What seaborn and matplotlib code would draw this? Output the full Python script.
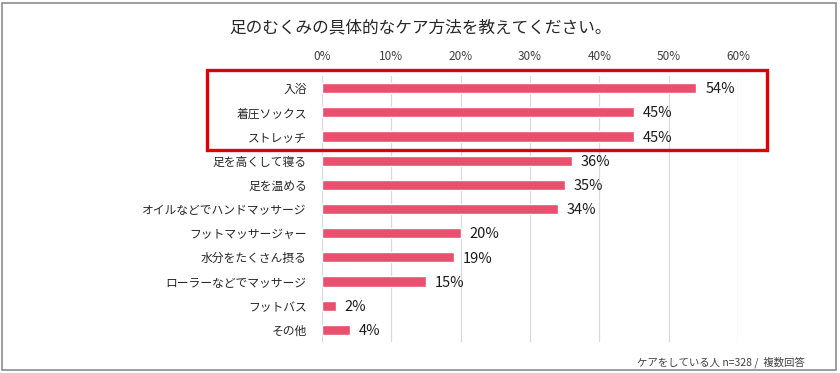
import matplotlib
matplotlib.use("Agg")
import matplotlib.pyplot as plt
import matplotlib.patches as patches
import pandas as pd
import seaborn as sns

# data
methods = ["入浴", "着圧ソックス", "ストレッチ", "足を高くして寝る", "足を温める",
           "オイルなどでハンドマッサージ", "フットマッサージャー", "水分をたくさん摂る",
           "ローラーなどでマッサージ", "フットバス", "その他"]
shares = [54, 45, 45, 36, 35, 34, 20, 19, 15, 2, 4]
xticks = [0, 10, 20, 30, 40, 50, 60]

df = pd.DataFrame({"method": methods, "share": shares})

sns.set_theme(style="white")
plt.rcParams["font.family"] = ["Noto Sans CJK JP", "DejaVu Sans"]

fig = plt.figure(figsize=(8.4, 3.73), dpi=100)
ax = fig.add_axes([322 / 840, 31 / 373, 416 / 840, 266 / 373])

sns.barplot(data=df, x="share", y="method", orient="h", color="#E8506E",
            saturation=1, width=0.42, ax=ax)

ax.set_xlim(0, 60)
ax.set_xticks(xticks)
ax.set_xticklabels([f"{t}%" for t in xticks], fontsize=8.5, color="#404040")
ax.xaxis.tick_top()
ax.tick_params(axis="x", length=0, pad=9)
ax.tick_params(axis="y", length=0, pad=11, labelsize=8.5, labelcolor="#262626")
ax.set_xlabel("")
ax.set_ylabel("")
ax.grid(axis="x", color="#D9D9D9", linewidth=0.9)
ax.set_axisbelow(True)
for s in ax.spines.values():
    s.set_visible(False)

for i, v in enumerate(shares):
    ax.text(v + 1.3, i + 0.05, f"{v}%", va="center", ha="left", fontsize=10.5,
            color="#1a1a1a", clip_on=False)

fig.text(0.5, 1 - 28 / 373, "足のむくみの具体的なケア方法を教えてください。",
         ha="center", va="center", fontsize=12, color="#262626")
fig.text(805 / 840, 1 - 362 / 373, "ケアをしている人 n=328 /  複数回答",
         ha="right", va="center", fontsize=7.5, color="#404040")

# outer frame
fig.patches.append(patches.Rectangle((2 / 840, 3 / 373), 834 / 840, 367 / 373,
                                     transform=fig.transFigure, fill=False,
                                     edgecolor="#8c8c8c", linewidth=1.2))
# red highlight box
fig.patches.append(patches.Rectangle((207 / 840, 1 - 150 / 373), 560 / 840, 80 / 373,
                                     transform=fig.transFigure, fill=False,
                                     edgecolor="#E00000", linewidth=2.4))

fig.savefig("out.png", dpi=100)
